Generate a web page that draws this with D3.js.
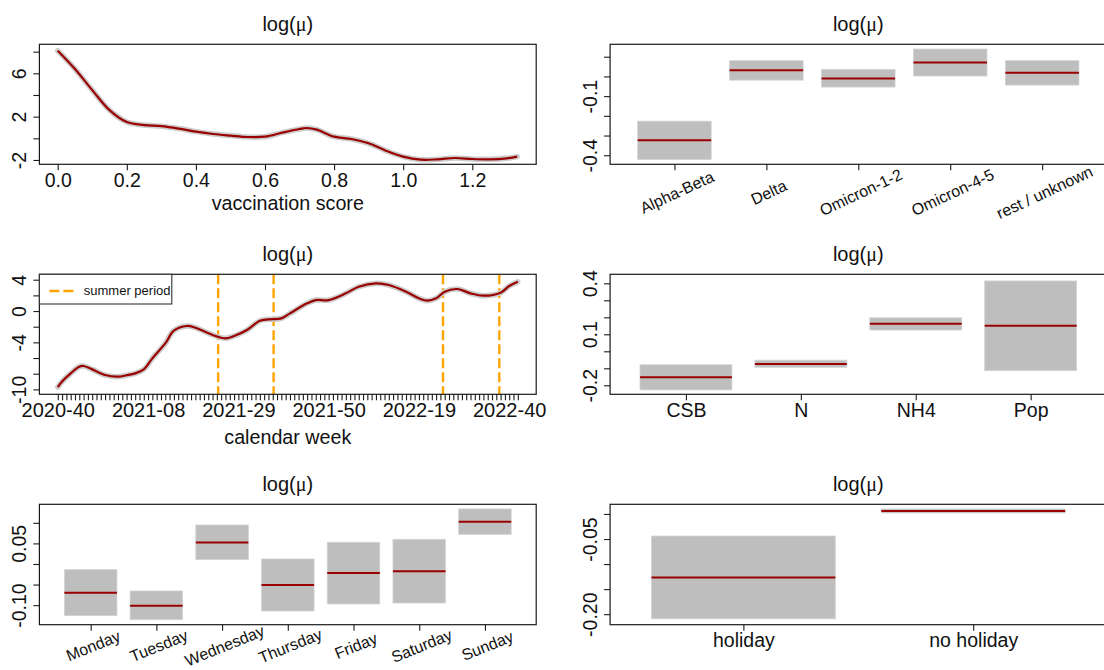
<!DOCTYPE html>
<html>
<head>
<meta charset="utf-8">
<script src="https://cdn.jsdelivr.net/npm/d3@7"></script>
<style>
    body { margin: 0; background: #fff; }
    svg text { font-family: "Liberation Sans", Arial, sans-serif; fill: #111; }
</style>
</head>
<body>
<div id="chart"></div>
<script>
// vaccination score smooth (top left)
var vaccScore = [0, 0.05, 0.1, 0.15, 0.2, 0.25, 0.3, 0.35, 0.4, 0.45, 0.5, 0.55, 0.6, 0.65, 0.7, 0.72, 0.75,
    0.8, 0.85, 0.9, 0.95, 1.0, 1.05, 1.1, 1.15, 1.2, 1.25, 1.3, 1.33];
var vaccFit = [8.09, 6.4, 4.45, 2.6, 1.5, 1.22, 1.12, 0.9, 0.62, 0.4, 0.25, 0.12, 0.15, 0.52, 0.86, 0.95, 0.8,
    0.15, -0.06, -0.46, -1.14, -1.69, -1.97, -1.94, -1.82, -1.91, -1.94, -1.85, -1.69];
var vaccTicks = [0, 0.2, 0.4, 0.6, 0.8, 1.0, 1.2];
var vaccTickLabels = ["0.0", "0.2", "0.4", "0.6", "0.8", "1.0", "1.2"];
var vaccYTicks = [-2, 0, 2, 4, 6, 8];
var vaccYLabels = ["-2", "", "2", "", "6", ""];

// calendar week smooth (middle left), week index 0 = 2020-40
var weekIdx = [0, 1, 3, 5, 6, 8, 11, 14, 16, 18, 20, 22, 25, 27, 30, 32, 36, 39, 41, 44, 47, 49, 52, 54, 58, 60,
    63, 67, 70, 74, 77, 81, 84, 86, 88, 90, 93, 96, 99, 103, 105, 107];
var weekFit = [-9.7, -9.0, -7.96, -7.1, -7.02, -7.45, -8.17, -8.38, -8.2, -7.96, -7.45, -6.04, -4.13, -2.51, -1.91,
    -2.13, -3.06, -3.49, -3.19, -2.43, -1.23, -1.06, -0.94, -0.3, 0.98, 1.4, 1.4, 2.26, 3.1, 3.53, 3.32, 2.47, 1.62,
    1.32, 1.62, 2.47, 2.81, 2.26, 1.96, 2.34, 3.19, 3.74];
var weekLabelIdx = [0, 21, 42, 63, 84, 105];
var weekLabels = ["2020-40", "2021-08", "2021-29", "2021-50", "2022-19", "2022-40"];
var summerWeeks = [37.3, 50.2, 89.6, 102.7];
var weekYTicks = [-10, -8, -6, -4, -2, 0, 2, 4];
var weekYLabels = ["-10", "", "", "-4", "", "0", "", "4"];

// variant effect (top right)
var variants = ["Alpha-Beta", "Delta", "Omicron-1-2", "Omicron-4-5", "rest / unknown"];
var variantFit = [-0.324, 0.031, -0.010, 0.071, 0.019];
var variantLo = [-0.422, -0.019, -0.054, 0.002, -0.044];
var variantHi = [-0.227, 0.080, 0.036, 0.139, 0.080];
var variantYTicks = [-0.4, -0.3, -0.2, -0.1, 0.0, 0.1];
var variantYLabels = ["-0.4", "", "", "-0.1", "", ""];

// normalisation (middle right)
var norms = ["CSB", "N", "NH4", "Pop"];
var normFit = [-0.153, -0.075, 0.162, 0.150];
var normLo = [-0.227, -0.094, 0.125, -0.114];
var normHi = [-0.079, -0.052, 0.197, 0.414];
var normYTicks = [-0.2, -0.1, 0.0, 0.1, 0.2, 0.3, 0.4];
var normYLabels = ["-0.2", "", "", "0.1", "", "", "0.4"];

// weekday (bottom left)
var weekdays = ["Monday", "Tuesday", "Wednesday", "Thursday", "Friday", "Saturday", "Sunday"];
var dayFit = [-0.0697, -0.1013, 0.0519, -0.0511, -0.0219, -0.0178, 0.1029];
var dayLo = [-0.1256, -0.1353, 0.0105, -0.1143, -0.0972, -0.0948, 0.0721];
var dayHi = [-0.0138, -0.0656, 0.0948, 0.0122, 0.0527, 0.0600, 0.1337];
var dayYTicks = [-0.10, -0.05, 0.0, 0.05, 0.10];
var dayYLabels = ["-0.10", "", "", "0.05", ""];

// holiday (bottom right)
var holidays = ["holiday", "no holiday"];
var holFit = [-0.1267, 0.006];
var holLo = [-0.2093, 0.002];
var holHi = [-0.044, 0.010];
var holYTicks = [-0.20, -0.15, -0.10, -0.05, 0.0];
var holYLabels = ["-0.20", "", "", "-0.05", ""];

// layout
var width = 1104, height = 670;
var cols = [{left: 39.4, right: 536.2}, {left: 610.1, right: 1106.5}];
var rows = [{top: 44.3, bottom: 164.3}, {top: 274.3, bottom: 394.3}, {top: 504.3, bottom: 624.7}];
var red = "#9a0000", grey = "#bebebe", ink = "#1a1a1a";

var svg = d3.select("#chart").append("svg")
    .attr("width", width).attr("height", height)
    .style("background", "#fff");

function panel(col, row, xdomain, ydomain) {
    var c = cols[col], r = rows[row];
    var p = {
        c: c, r: r,
        x: d3.scaleLinear().domain(xdomain).range([c.left, c.right]),
        y: d3.scaleLinear().domain(ydomain).range([r.bottom, r.top]),
        g: svg.append("g")
    };
    // title log(mu)
    var t = p.g.append("text")
        .attr("x", (c.left + c.right) / 2).attr("y", r.top - 13)
        .attr("text-anchor", "middle").style("font-size", "20px");
    t.append("tspan").text("log(");
    t.append("tspan").style("font-family", "'Liberation Serif', 'DejaVu Serif', serif").text("\u03bc");
    t.append("tspan").text(")");
    return p;
}

function factorRange(n) {
    var ext = 0.04 * n;
    return [0.5 - ext, n + 0.5 + ext];
}

function drawBox(p) {
    p.g.append("rect")
        .attr("x", p.c.left).attr("y", p.r.top)
        .attr("width", p.c.right - p.c.left).attr("height", p.r.bottom - p.r.top)
        .attr("fill", "none").attr("stroke", ink).attr("stroke-width", 1.2);
}

function yAxis(p, ticks, labels) {
    var ax = d3.axisLeft(p.y).tickValues(ticks).tickSize(6).tickPadding(0)
        .tickFormat(function(d, i) { return labels[i]; });
    var a = p.g.append("g")
        .attr("transform", "translate(" + p.c.left + ",0)")
        .call(ax);
    a.select(".domain").remove();
    a.selectAll(".tick line").attr("stroke", ink).attr("stroke-width", 1.1);
    a.selectAll(".tick text")
        .attr("transform", "rotate(-90)")
        .attr("x", 0).attr("y", -13.5).attr("dy", 0)
        .attr("text-anchor", "middle")
        .style("font-size", "19.5px").style("font-family", "'Liberation Sans', Arial, sans-serif");
}

function xAxis(p, ticks, labels, rotate, offset, angle) {
    var ax = d3.axisBottom(p.x).tickValues(ticks).tickSize(6).tickPadding(0)
        .tickFormat(function(d, i) { return labels[i]; });
    var a = p.g.append("g")
        .attr("transform", "translate(0," + p.r.bottom + ")")
        .call(ax);
    a.select(".domain").remove();
    a.selectAll(".tick line").attr("stroke", ink).attr("stroke-width", 1.1);
    var txt = a.selectAll(".tick text")
        .attr("text-anchor", "middle")
        .style("font-family", "'Liberation Sans', Arial, sans-serif");
    if (rotate) {
        txt.attr("y", 0).attr("dy", "0.35em")
            .attr("transform", "translate(2," + offset + ") rotate(" + (-angle) + ")")
            .style("font-size", "16px");
    } else {
        txt.attr("y", 22.5).attr("dy", 0).style("font-size", "19.5px");
    }
    return a;
}

function axisTitle(p, label, y) {
    p.g.append("text")
        .attr("x", (p.c.left + p.c.right) / 2).attr("y", y)
        .attr("text-anchor", "middle").style("font-size", "19.7px")
        .text(label);
}

function smooth(p, xs, ys) {
    var pts = xs.map(function(d, i) { return [d, ys[i]]; });
    var line = d3.line()
        .x(function(d) { return p.x(d[0]); })
        .y(function(d) { return p.y(d[1]); })
        .curve(d3.curveCatmullRom.alpha(0.5));
    // confidence band (narrow)
    p.g.append("path").attr("d", line(pts))
        .attr("fill", "none").attr("stroke", "#cccccc").attr("stroke-width", 5.5)
        .attr("stroke-linecap", "round");
    p.g.append("path").attr("d", line(pts))
        .attr("fill", "none").attr("stroke", red).attr("stroke-width", 2.2);
}

function factorBars(p, fit, lo, hi) {
    p.g.selectAll(".ci").data(fit).enter().append("rect")
        .attr("class", "ci")
        .attr("x", function(d, i) { return p.x(i + 0.6); })
        .attr("width", function(d, i) { return p.x(i + 1.4) - p.x(i + 0.6); })
        .attr("y", function(d, i) { return p.y(hi[i]); })
        .attr("height", function(d, i) { return Math.max(1.5, p.y(lo[i]) - p.y(hi[i])); })
        .attr("fill", grey).attr("stroke", "#d4d4d4").attr("stroke-width", 0.8);
    p.g.selectAll(".est").data(fit).enter().append("line")
        .attr("class", "est")
        .attr("x1", function(d, i) { return p.x(i + 0.6); })
        .attr("x2", function(d, i) { return p.x(i + 1.4); })
        .attr("y1", function(d) { return p.y(d); })
        .attr("y2", function(d) { return p.y(d); })
        .attr("stroke", red).attr("stroke-width", 2);
}

function idx(arr) { return arr.map(function(d, i) { return i + 1; }); }

// top left: vaccination score
var p1 = panel(0, 0, [-0.053, 1.385], [-2.40, 8.68]);
smooth(p1, vaccScore, vaccFit);
drawBox(p1);
yAxis(p1, vaccYTicks, vaccYLabels);
xAxis(p1, vaccTicks, vaccTickLabels, false);
axisTitle(p1, "vaccination score", 210);

// top right: variant
var p2 = panel(1, 0, factorRange(variants.length), [-0.446, 0.163]);
factorBars(p2, variantFit, variantLo, variantHi);
drawBox(p2);
yAxis(p2, variantYTicks, variantYLabels);
xAxis(p2, idx(variants), variants, true, 28, 25);

// middle left: calendar week
var p3 = panel(0, 1, [-4.28, 111.28], [-10.63, 4.69]);
p3.g.selectAll(".summer").data(summerWeeks).enter().append("line")
    .attr("class", "summer")
    .attr("x1", function(d) { return p3.x(d); }).attr("x2", function(d) { return p3.x(d); })
    .attr("y1", p3.r.top).attr("y2", p3.r.bottom)
    .attr("stroke", "#ffa500").attr("stroke-width", 2.4).attr("stroke-dasharray", "10,4");
smooth(p3, weekIdx, weekFit);
drawBox(p3);
yAxis(p3, weekYTicks, weekYLabels);
var allWeeks = d3.range(0, 108);
var allWeekLabels = allWeeks.map(function(w) {
    var k = weekLabelIdx.indexOf(w);
    return k >= 0 ? weekLabels[k] : "";
});
var ax3 = xAxis(p3, allWeeks, allWeekLabels, false);
ax3.selectAll(".tick text").style("font-size", "20px");
axisTitle(p3, "calendar week", 444);

// legend
var lg = p3.g.append("g");
lg.append("rect")
    .attr("x", p3.c.left).attr("y", p3.r.top)
    .attr("width", 132.4).attr("height", 29.7)
    .attr("fill", "#fff").attr("stroke", "#333").attr("stroke-width", 1.1);
lg.append("line")
    .attr("x1", p3.c.left + 10).attr("x2", p3.c.left + 36)
    .attr("y1", p3.r.top + 16.7).attr("y2", p3.r.top + 16.7)
    .attr("stroke", "#ffa500").attr("stroke-width", 2.4).attr("stroke-dasharray", "10,4");
lg.append("text")
    .attr("x", p3.c.left + 44.4).attr("y", p3.r.top + 20.7)
    .style("font-size", "13px")
    .text("summer period");

// middle right: normalisation
var p4 = panel(1, 1, factorRange(norms.length), [-0.253, 0.453]);
factorBars(p4, normFit, normLo, normHi);
drawBox(p4);
yAxis(p4, normYTicks, normYLabels);
xAxis(p4, idx(norms), norms, false);

// bottom left: weekday
var p5 = panel(0, 2, factorRange(weekdays.length), [-0.1475, 0.145]);
factorBars(p5, dayFit, dayLo, dayHi);
drawBox(p5);
yAxis(p5, dayYTicks, dayYLabels);
xAxis(p5, idx(weekdays), weekdays, true, 21, 22);

// bottom right: holiday
var p6 = panel(1, 2, factorRange(holidays.length), [-0.221, 0.0193]);
factorBars(p6, holFit, holLo, holHi);
drawBox(p6);
yAxis(p6, holYTicks, holYLabels);
xAxis(p6, idx(holidays), holidays, false);
</script>
</body>
</html>
